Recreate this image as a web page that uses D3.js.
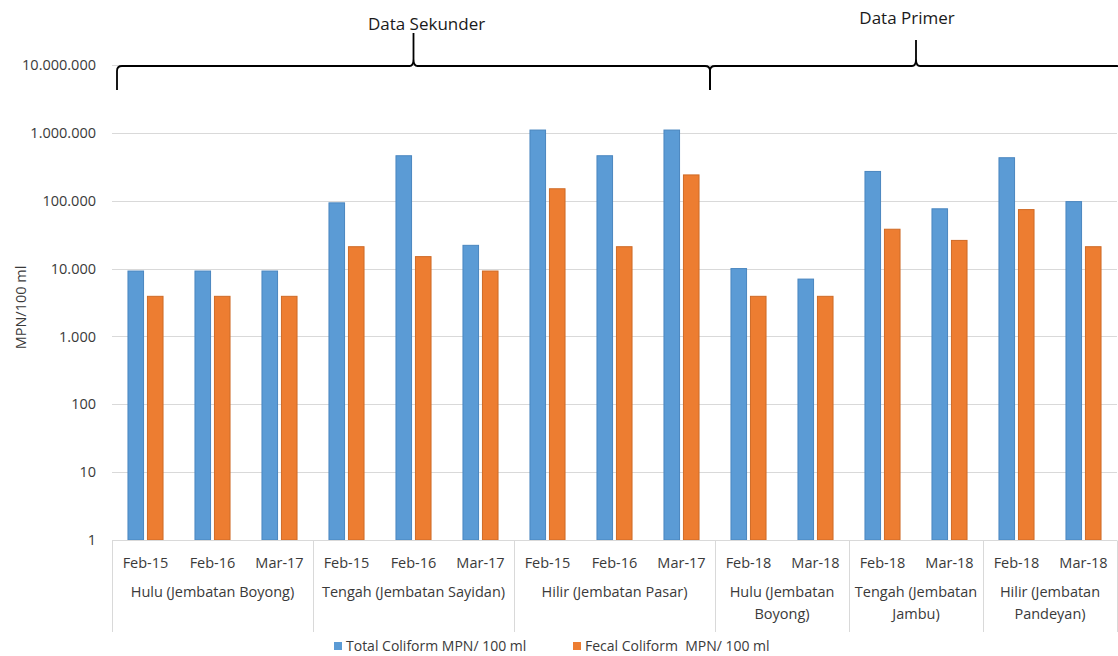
<!DOCTYPE html>
<html>
<head>
<meta charset="utf-8">
<script src="https://cdn.jsdelivr.net/npm/d3@7"></script>
<style>
    body { margin: 0; background: #fff; }
    svg { display: block; font-family: "Open Sans", sans-serif; }
</style>
</head>
<body>
<div id="chart"></div>
<script>
    // Data
    const periods = ["Feb-15", "Feb-16", "Mar-17", "Feb-15", "Feb-16", "Mar-17", "Feb-15", "Feb-16", "Mar-17",
        "Feb-18", "Mar-18", "Feb-18", "Mar-18", "Feb-18", "Mar-18"];
    const groupLabels = ["Hulu (Jembatan Boyong)", "Tengah (Jembatan Sayidan)", "Hilir (Jembatan Pasar)",
        "Hulu (Jembatan|Boyong)", "Tengah (Jembatan|Jambu)", "Hilir (Jembatan|Pandeyan)"];
    const groupSizes = [3, 3, 3, 2, 2, 2];
    const totalColiform = [9200, 9200, 9200, 93000, 460000, 22000, 1100000, 460000, 1100000,
        10000, 7000, 270000, 76000, 430000, 97000];
    const fecalColiform = [3900, 3900, 3900, 21000, 15000, 9200, 150000, 21000, 240000,
        3900, 3900, 38000, 26000, 74000, 21000];
    const seriesNames = ["Total Coliform MPN/ 100 ml", "Fecal Coliform  MPN/ 100 ml"];
    const yTicks = [1, 10, 100, 1000, 10000, 100000, 1000000, 10000000];
    const sourceLabels = ["Data Sekunder", "Data Primer"];
    const sourceGroups = [[0, 2], [3, 5]]; // first and last group of each brace

    const width = 1118, height = 656;
    const colors = ["#5b9bd5", "#ed7d31"];
    const strokes = ["#4a86bf", "#cf6a26"];
    const textColor = "#3a3a3a";
    const gridColor = "#d9d9d9";

    const svg = d3.select("#chart").append("svg")
        .attr("width", width)
        .attr("height", height);

    const x = d3.scaleBand()
        .domain(d3.range(periods.length))
        .range([112, 1117])
        .padding(0);

    const xInner = d3.scaleBand()
        .domain([0, 1])
        .range([0, x.bandwidth()])
        .paddingInner(0.2)
        .paddingOuter(0.82);

    const y = d3.scaleLog()
        .domain([1, 1e7])
        .range([540, 65]);

    const fmt = d3.formatLocale({ decimal: ",", thousands: ".", grouping: [3], currency: ["", ""] }).format(",d");

    // Gridlines
    svg.append("g")
        .selectAll("line")
        .data(yTicks)
        .enter()
        .append("line")
        .attr("x1", x.range()[0])
        .attr("x2", x.range()[1])
        .attr("y1", d => Math.round(y(d)) + 0.5)
        .attr("y2", d => Math.round(y(d)) + 0.5)
        .attr("stroke", gridColor)
        .attr("stroke-width", 1);

    // Y tick labels
    svg.append("g")
        .selectAll("text")
        .data(yTicks)
        .enter()
        .append("text")
        .attr("x", 96)
        .attr("y", d => y(d))
        .attr("dy", "0.35em")
        .attr("text-anchor", "end")
        .attr("font-size", "14.5px")
        .attr("fill", textColor)
        .text(d => fmt(d));

    // Y axis title
    svg.append("text")
        .attr("transform", `translate(21, ${(y(1) + y(1e7)) / 2 + 5}) rotate(-90)`)
        .attr("text-anchor", "middle")
        .attr("dy", "0.35em")
        .attr("font-size", "14.5px")
        .attr("fill", textColor)
        .text("MPN/100 ml");

    // Bars
    const series = [totalColiform, fecalColiform];
    series.forEach((values, s) => {
        svg.append("g")
            .selectAll("rect")
            .data(values)
            .enter()
            .append("rect")
            .attr("x", (d, i) => x(i) + xInner(s))
            .attr("y", d => y(d))
            .attr("width", xInner.bandwidth())
            .attr("height", d => y(1) - y(d))
            .attr("fill", colors[s])
            .attr("stroke", strokes[s])
            .attr("stroke-width", 1);
    });

    // Category axis (multi-level)
    const axisY = Math.round(y(1)) + 0.5;
    svg.append("line")
        .attr("x1", x.range()[0]).attr("x2", x.range()[1])
        .attr("y1", axisY).attr("y2", axisY)
        .attr("stroke", gridColor);

    svg.append("g")
        .selectAll("text")
        .data(periods)
        .enter()
        .append("text")
        .attr("x", (d, i) => x(i) + x.bandwidth() / 2)
        .attr("y", 563)
        .attr("dy", "0.35em")
        .attr("text-anchor", "middle")
        .attr("font-size", "14.5px")
        .attr("fill", textColor)
        .text(d => d);

    const groupStart = groupSizes.map((n, i) => d3.sum(groupSizes.slice(0, i)));
    const boundaries = groupStart.map(i => x(i)).concat([x.range()[1]]);

    svg.append("g")
        .selectAll("line")
        .data(boundaries)
        .enter()
        .append("line")
        .attr("x1", d => Math.round(d) + 0.5)
        .attr("x2", d => Math.round(d) + 0.5)
        .attr("y1", axisY)
        .attr("y2", 632)
        .attr("stroke", gridColor);

    const groupText = svg.append("g")
        .selectAll("text")
        .data(groupLabels)
        .enter()
        .append("text")
        .attr("x", (d, i) => (boundaries[i] + boundaries[i + 1]) / 2)
        .attr("y", 592)
        .attr("text-anchor", "middle")
        .attr("font-size", "14.5px")
        .attr("fill", textColor);

    groupText.selectAll("tspan")
        .data(d => d.split("|"))
        .enter()
        .append("tspan")
        .attr("x", function () { return d3.select(this.parentNode).attr("x"); })
        .attr("dy", (d, i) => i === 0 ? "0.35em" : "1.5em")
        .text(d => d);

    // Braces above the plot
    const braceLineY = 66, braceEndY = 90;
    const bracePeakY = [33, 40];
    const labelDx = [13, -9];
    const labelY = [30, 24];

    sourceGroups.forEach((g, k) => {
        const x0 = boundaries[g[0]] + (k === 0 ? 5 : -5);
        const x1 = boundaries[g[1] + 1] + (k === 0 ? -5 : 5);
        const xm = (x0 + x1) / 2;
        const p = d3.path();
        p.moveTo(x0, braceEndY);
        p.lineTo(x0, braceLineY + 5);
        p.quadraticCurveTo(x0, braceLineY, x0 + 5, braceLineY);
        p.lineTo(xm - 4, braceLineY);
        p.quadraticCurveTo(xm, braceLineY, xm, braceLineY - 7);
        p.lineTo(xm, bracePeakY[k]);
        p.moveTo(xm, braceLineY - 7);
        p.quadraticCurveTo(xm, braceLineY, xm + 4, braceLineY);
        p.lineTo(x1 - 5, braceLineY);
        p.quadraticCurveTo(x1, braceLineY, x1, braceLineY + 5);
        p.lineTo(x1, braceEndY);

        svg.append("path")
            .attr("d", p.toString())
            .attr("fill", "none")
            .attr("stroke", "#000")
            .attr("stroke-width", 1.8);

        svg.append("text")
            .attr("x", xm + labelDx[k])
            .attr("y", labelY[k])
            .attr("text-anchor", "middle")
            .attr("font-size", "17px")
            .attr("fill", "#1a1a1a")
            .text(sourceLabels[k]);
    });

    // Legend
    const legendX = [334, 573];
    const legend = svg.append("g")
        .selectAll("g")
        .data(seriesNames)
        .enter()
        .append("g")
        .attr("transform", (d, i) => `translate(${legendX[i]}, 646)`);

    legend.append("rect")
        .attr("x", 0)
        .attr("y", -4)
        .attr("width", 8)
        .attr("height", 8)
        .attr("fill", (d, i) => colors[i]);

    legend.append("text")
        .attr("x", 12)
        .attr("dy", "0.35em")
        .attr("font-size", "14px")
        .attr("fill", textColor)
        .style("white-space", "pre")
        .text(d => d);
</script>
</body>
</html>
